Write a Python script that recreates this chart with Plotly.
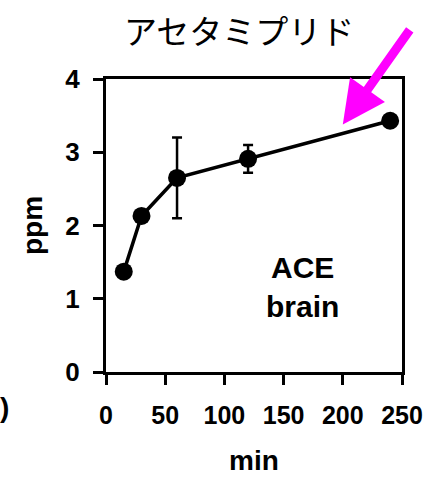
import plotly.graph_objects as go

# Acetamiprid concentration in brain over time
time_min = [15, 30, 60, 120, 240]
ppm = [1.37, 2.13, 2.65, 2.91, 3.43]
ppm_err = [0, 0, 0.55, 0.19, 0]

x_ticks = [0, 50, 100, 150, 200, 250]
y_ticks = [0, 1, 2, 3, 4]

title_text = "アセタミプリド"
label_lines = ["ACE", "brain"]

fig = go.Figure()
fig.add_trace(go.Scatter(
    x=time_min, y=ppm,
    mode="lines+markers",
    line=dict(color="black", width=3.5),
    marker=dict(color="black", size=18),
    error_y=dict(type="data", array=ppm_err, visible=True,
                 color="black", thickness=2.5, width=5),
    showlegend=False,
    cliponaxis=False,
))

bold = dict(family="Liberation Sans, Arial, sans-serif", color="black")

fig.update_layout(
    width=438, height=477,
    margin=dict(l=106, r=36, t=79, b=105),
    paper_bgcolor="white", plot_bgcolor="white",
    xaxis=dict(
        range=[0, 250], tickvals=x_ticks, ticktext=[f"<b>{v}</b>" for v in x_ticks],
        showgrid=False, zeroline=False, automargin=False,
        showline=True, linecolor="black", linewidth=3, mirror=True,
        ticks="outside", ticklen=10, tickwidth=3, tickcolor="black",
        tickfont=dict(size=25, **bold), ticklabelstandoff=9,
        title=dict(text="<b>min</b>", font=dict(size=28, **bold), standoff=23),
    ),
    yaxis=dict(
        range=[0, 4], tickvals=y_ticks, ticktext=[f"<b>{v}</b>" for v in y_ticks],
        showgrid=False, zeroline=False, automargin=False,
        showline=True, linecolor="black", linewidth=3, mirror=True,
        ticks="outside", ticklen=10, tickwidth=3, tickcolor="black",
        tickfont=dict(size=26, **bold), ticklabelstandoff=8,
        title=dict(text="<b>ppm</b>", font=dict(size=28, **bold), standoff=15),
    ),
)

# Title above the plot
fig.add_annotation(
    text=title_text, xref="paper", yref="paper",
    x=(239 - 106) / 296, y=1 + (79 - 30) / 293,
    showarrow=False, xanchor="center", yanchor="middle",
    font=dict(family="Noto Sans CJK JP", size=33, color="black"),
)

# In-plot label
fig.add_annotation(
    text=f"<b>{label_lines[0]}</b><br><b>{label_lines[1]}</b>",
    x=166, y=1.16, xref="x", yref="y", showarrow=False,
    font=dict(size=30, **bold), align="center",
)

# Magenta pointer arrow
fig.add_annotation(
    x=200, y=3.38, xref="x", yref="y", text="",
    showarrow=True, arrowhead=2, arrowsize=0.95, arrowwidth=9,
    arrowcolor="#ff00ff", ax=68, ay=-96, axref="pixel", ayref="pixel",
)

# Edge of a neighbouring panel mark at the left border
fig.add_annotation(
    text="<b>)</b>", xref="paper", yref="paper",
    x=(-2 - 106) / 296, y=(372 - 407) / 293,
    showarrow=False, xanchor="left", yanchor="middle",
    font=dict(size=28, **bold),
)

fig.write_html("out.html")
